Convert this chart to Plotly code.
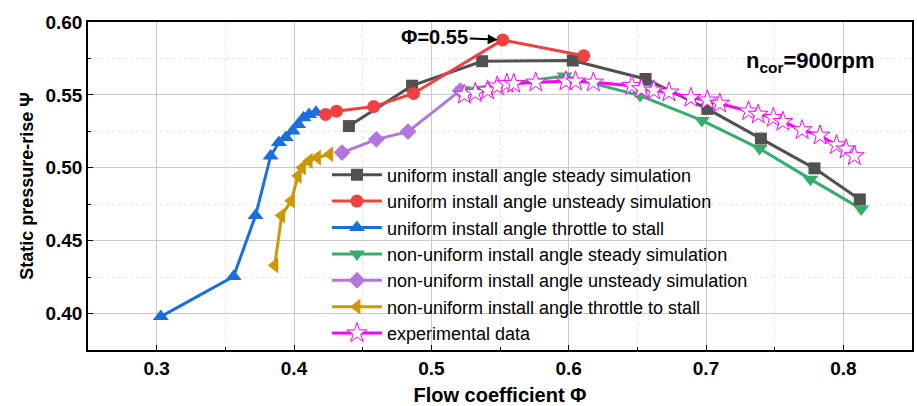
import plotly.graph_objects as go

# ---- data ----
gray_x = [0.440, 0.486, 0.537, 0.603, 0.656, 0.701, 0.740, 0.779, 0.812]
gray_y = [0.5286, 0.5563, 0.5731, 0.5736, 0.5609, 0.5404, 0.5200, 0.4996, 0.4783]

red_x = [0.423, 0.431, 0.458, 0.487, 0.552, 0.611]
red_y = [0.5366, 0.5388, 0.5420, 0.5510, 0.5877, 0.5768]

blue_x = [0.303, 0.356, 0.372, 0.383, 0.389, 0.394, 0.399, 0.403, 0.407, 0.411, 0.416]
blue_y = [0.3979, 0.4254, 0.4672, 0.5081, 0.5173, 0.5207, 0.5252, 0.5297, 0.5343, 0.5366, 0.5381]

green_x = [0.523, 0.597, 0.652, 0.697, 0.739, 0.776, 0.813]
green_y = [0.5536, 0.5630, 0.5495, 0.5325, 0.5132, 0.4922, 0.4718]

purple_x = [0.435, 0.460, 0.483, 0.521]
purple_y = [0.5104, 0.5195, 0.5248, 0.5529]

gold_x = [0.386, 0.391, 0.398, 0.403, 0.406, 0.411, 0.417, 0.426]
gold_y = [0.4331, 0.4672, 0.4774, 0.4945, 0.5002, 0.5047, 0.5070, 0.5093]

exp_x = [0.524, 0.532, 0.541, 0.548, 0.555, 0.560, 0.576, 0.598, 0.605, 0.618,
         0.646, 0.653, 0.662, 0.673, 0.689, 0.701, 0.710, 0.731, 0.738, 0.749,
         0.756, 0.770, 0.783, 0.795, 0.802, 0.808]
exp_y = [0.5502, 0.5514, 0.5531, 0.5559, 0.5577, 0.5577, 0.5586, 0.5593, 0.5593, 0.5586,
         0.5563, 0.5541, 0.5531, 0.5518, 0.5480, 0.5463, 0.5441, 0.5388, 0.5366, 0.5343,
         0.5316, 0.5259, 0.5222, 0.5156, 0.5127, 0.5081]

x_ticks = [0.3, 0.4, 0.5, 0.6, 0.7, 0.8]
y_ticks = [0.40, 0.45, 0.50, 0.55, 0.60]

names = [
    "uniform install angle steady simulation",
    "uniform install angle unsteady simulation",
    "uniform install angle throttle to stall",
    "non-uniform install angle steady simulation",
    "non-uniform install angle unsteady simulation",
    "non-uniform install angle throttle to stall",
    "experimental data",
]
colors = ["#515151", "#F14040", "#1A6FDF", "#37AD6B", "#B177DE", "#CC9900", "#FF00FF"]

FONT = "Liberation Sans, Arial, sans-serif"

fig = go.Figure()

def add(x, y, i, symbol, size, rank, fill=None, lw=0):
    fig.add_trace(go.Scatter(
        x=x, y=y, mode="lines+markers", name=names[i], legendrank=rank,
        line=dict(color=colors[i], width=3),
        marker=dict(symbol=symbol, size=size, color=fill or colors[i],
                    line=dict(color=colors[i], width=lw)),
    ))

# drawing order (z) differs from legend order
add(green_x, green_y, 3, "triangle-down", 14, 4)
add(purple_x, purple_y, 4, "diamond", 13, 5)
add(gold_x, gold_y, 5, "triangle-left", 14, 6)
add(gray_x, gray_y, 0, "square", 12, 1)
add(blue_x, blue_y, 2, "triangle-up", 14, 3)
add(red_x, red_y, 1, "circle", 13, 2)
add(exp_x, exp_y, 6, "star", 15, 7, fill="white", lw=1)

fig.add_annotation(
    x=0.552, y=0.5877, xref="x", yref="y", text="<b>Φ=0.55</b>",
    showarrow=True, arrowhead=2, arrowsize=1, arrowwidth=2, arrowcolor="black",
    ax=-68, ay=-3, standoff=5, font=dict(family=FONT, size=20, color="black"),
)
fig.add_annotation(
    x=0.957, y=0.878, xref="paper", yref="paper", xanchor="right", yanchor="middle",
    text="<b>n<sub>cor</sub>=900rpm</b>", showarrow=False,
    font=dict(family=FONT, size=22, color="black"),
)

axis_common = dict(
    showline=True, linecolor="black", linewidth=1.5, mirror=True,
    ticks="inside", ticklen=5, tickcolor="black", tickwidth=1,
    showgrid=True, gridcolor="#c9c9c9", gridwidth=1, zeroline=False,
    tickfont=dict(family=FONT, size=19, color="black", weight="bold"),
)

fig.update_xaxes(
    range=[0.25, 0.85], tickvals=x_ticks,
    ticktext=[f"{v:.1f}" for v in x_ticks],
    minor=dict(dtick=0.05, tick0=0.25, ticks="inside", ticklen=3, tickcolor="black",
               showgrid=True, gridcolor="#e3e3e3", griddash="dot"),
    title=dict(text="<b>Flow coefficient Φ</b>", font=dict(family=FONT, size=20, color="black"),
               standoff=10),
    **axis_common,
)
fig.update_yaxes(
    range=[0.375, 0.60], tickvals=y_ticks,
    ticktext=[f"{v:.2f}" for v in y_ticks],
    minor=dict(dtick=0.025, tick0=0.375, ticks="inside", ticklen=3, tickcolor="black",
               showgrid=True, gridcolor="#e3e3e3", griddash="dot"),
    title=dict(text="<b>Static pressure-rise Ψ</b>", font=dict(family=FONT, size=18, color="black"),
               standoff=7),
    **axis_common,
)

fig.update_layout(
    width=917, height=406,
    margin=dict(l=88, r=3, t=22, b=55),
    paper_bgcolor="white", plot_bgcolor="white",
    font=dict(family=FONT, color="black"),
    legend=dict(
        x=0.29, y=0.59, xanchor="left", yanchor="top",
        bgcolor="rgba(0,0,0,0)", borderwidth=0,
        font=dict(family=FONT, size=18, color="black"),
        itemwidth=50, tracegroupgap=0,
    ),
)

fig.write_html("out.html")
